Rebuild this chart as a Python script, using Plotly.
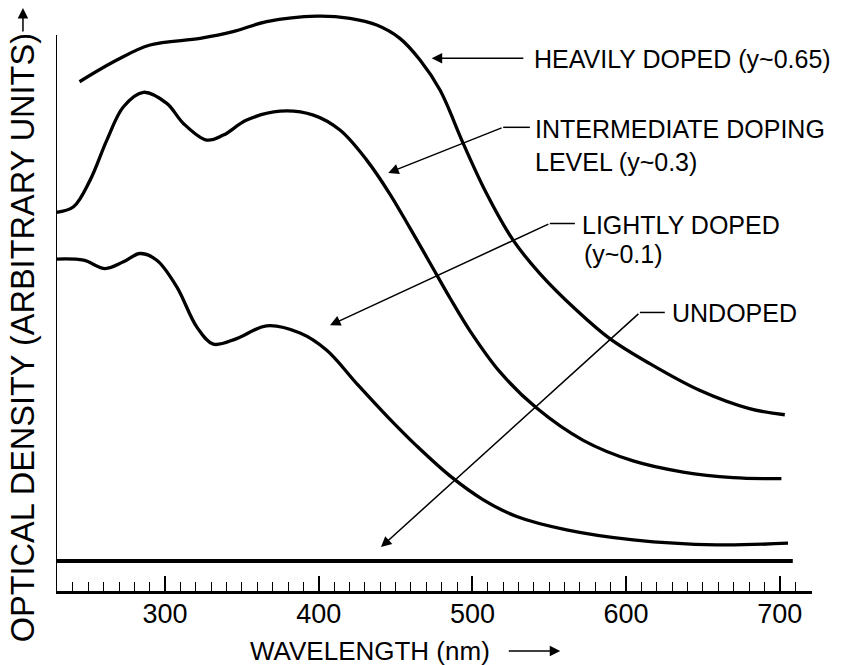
import plotly.graph_objects as go

# ---------------- data (wavelength in nm, optical density in arbitrary units) -------------
heavy_x = [244.3, 268.6, 290.2, 322.8, 344.2, 366.1, 398.7, 420.3, 437.7, 452.8, 465.9,
           478.9, 494.0, 509.2, 526.5, 543.9, 567.8, 589.4, 615.4, 647.8, 680.3, 703.3]
heavy_y = [9.16, 9.55, 9.82, 9.94, 10.06, 10.24, 10.34, 10.30, 10.18, 9.94, 9.55,
           9.01, 8.05, 7.15, 6.31, 5.71, 5.05, 4.54, 4.09, 3.61, 3.28, 3.17]

inter_x = [229.2, 240.4, 251.2, 262.1, 272.9, 285.9, 301.1, 311.9, 327.1, 337.9, 353.1,
           374.8, 396.5, 413.8, 431.2, 446.3, 459.3, 472.4, 485.4, 498.4, 517.9, 541.8,
           572.1, 604.6, 637.1, 669.6, 701.1]
inter_y = [6.81, 6.91, 7.39, 8.11, 8.71, 8.97, 8.77, 8.41, 8.11, 8.20, 8.47,
           8.63, 8.56, 8.29, 7.75, 7.14, 6.53, 5.90, 5.27, 4.68, 3.94, 3.29,
           2.71, 2.34, 2.14, 2.04, 2.02]

light_x = [229.2, 246.9, 261.0, 272.9, 283.7, 294.6, 307.6, 320.6, 331.4, 346.6, 366.1,
           387.8, 405.2, 424.7, 444.2, 463.7, 485.4, 507.1, 528.8, 561.3,
           604.6, 658.8, 705.4]
light_y = [5.97, 5.95, 5.80, 5.92, 6.07, 5.95, 5.47, 4.75, 4.44, 4.54, 4.77,
           4.64, 4.33, 3.73, 3.15, 2.61, 2.07, 1.64, 1.34, 1.10,
           0.92, 0.83, 0.86]

undoped_x = [229.2, 708.5]
undoped_y = [0.54, 0.54]

major_ticks = [300, 400, 500, 600, 700]
tick_labels = ["300", "400", "500", "600", "700"]
minor_ticks = [v for v in range(240, 711, 10) if v % 100 != 0]

labels = {
    "heavy": ["HEAVILY DOPED (y~0.65)"],
    "inter": ["INTERMEDIATE DOPING", "LEVEL (y~0.3)"],
    "light": ["LIGHTLY DOPED", "(y~0.1)"],
    "undoped": ["UNDOPED"],
}
x_title = "WAVELENGTH (nm)"
y_title = "OPTICAL DENSITY (ARBITRARY UNITS)"

X_RANGE = [229, 721]
Y_RANGE = [0, 10.54]
FONT = "Liberation Sans, Arial, sans-serif"
INK = "black"

fig = go.Figure()
for xs, ys in [(heavy_x, heavy_y), (inter_x, inter_y), (light_x, light_y)]:
    fig.add_trace(go.Scatter(x=xs, y=ys, mode="lines",
                             line=dict(color=INK, width=3.3, shape="spline", smoothing=1.0),
                             showlegend=False, hoverinfo="skip"))
fig.add_trace(go.Scatter(x=undoped_x, y=undoped_y, mode="lines",
                         line=dict(color=INK, width=3.8), showlegend=False, hoverinfo="skip"))

# left axis line (drawn only up to y = 10)
fig.add_shape(type="line", x0=X_RANGE[0], x1=X_RANGE[0], y0=0, y1=10,
              line=dict(color=INK, width=2))

def text(x, y, s, size=25, ref="", **kw):
    fig.add_annotation(x=x, y=y, xref="paper" if ref else "x", yref="paper" if ref else "y",
                       text=s, showarrow=False,
                       xanchor=kw.pop("xanchor", "left"), yanchor="middle",
                       font=dict(family=FONT, size=size, color=INK), **kw)

def arrow(x_tip, y_tip, x_tail, y_tail, width=1.5):
    fig.add_annotation(x=x_tip, y=y_tip, ax=x_tail, ay=y_tail, xref="x", yref="y",
                       axref="x", ayref="y", text="", showarrow=True, arrowhead=2,
                       arrowsize=1.4, arrowwidth=width, arrowcolor=INK, standoff=0,
                       startstandoff=0)

def paper_arrow(x_tip, y_tip, dx, dy):
    fig.add_annotation(x=x_tip, y=y_tip, ax=dx, ay=dy, xref="paper", yref="paper",
                       axref="pixel", ayref="pixel", text="", showarrow=True, arrowhead=2,
                       arrowsize=1.4, arrowwidth=1.5, arrowcolor=INK, standoff=0)

def seg(x0, y0, x1, y1):
    fig.add_shape(type="line", x0=x0, y0=y0, x1=x1, y1=y1, xref="x", yref="y",
                  line=dict(color=INK, width=1.5))

# heavily doped
text(538.5, 9.57, labels["heavy"][0])
arrow(473.5, 9.58, 534.1, 9.58)
# intermediate
text(539.3, 8.31, labels["inter"][0])
text(539.3, 7.72, labels["inter"][1])
seg(537.4, 8.34, 520.0, 8.34)
arrow(445.2, 7.52, 520.0, 8.34)
# lightly
text(569.9, 6.58, labels["light"][0])
text(571.0, 6.06, labels["light"][1])
seg(566.7, 6.61, 550.4, 6.61)
arrow(407.3, 4.78, 550.4, 6.61)
# undoped
text(628.4, 5.0, labels["undoped"][0])
seg(625.2, 5.01, 609.0, 5.01)
arrow(440.5, 0.79, 609.0, 5.01)

# axis titles (paper coordinates)
text(0.254, -0.1024, x_title, size=26, ref="paper")
paper_arrow(0.667, -0.1024, -53, 0)
text(-0.0437, 0.433, y_title, size=32.5, ref="paper", textangle=-90, xanchor="center")
paper_arrow(-0.0437, 0.995, 0, 25)

fig.update_xaxes(range=X_RANGE, showgrid=False, zeroline=False, showline=True,
                 linecolor=INK, linewidth=2.5, ticks="inside", ticklen=15, tickwidth=1.6,
                 tickcolor=INK, tickmode="array", tickvals=major_ticks, ticktext=tick_labels,
                 tickfont=dict(family=FONT, size=27, color=INK), ticklabelstandoff=-3,
                 minor=dict(ticks="inside", ticklen=9, tickwidth=1.3, tickcolor=INK,
                            tickmode="array", tickvals=minor_ticks))
fig.update_yaxes(range=Y_RANGE, showgrid=False, zeroline=False, showline=False,
                 showticklabels=False, ticks="")
fig.update_layout(width=864, height=665, margin=dict(l=56, r=52, t=5, b=74),
                  plot_bgcolor="white", paper_bgcolor="white", showlegend=False)

fig.write_html("out.html")
